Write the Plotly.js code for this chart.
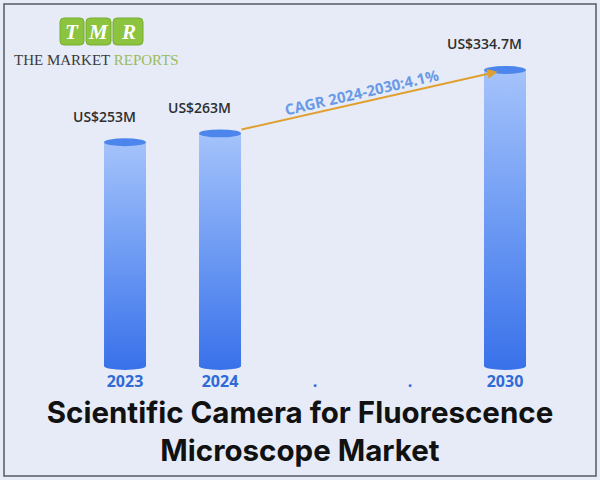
<!DOCTYPE html>
<html>
<head>
<meta charset="utf-8">
<script src="https://cdn.plot.ly/plotly-3.0.1.min.js"></script>
<style>html,body{margin:0;padding:0;background:#e6ebf7;}#chart{width:600px;height:480px;}</style>
</head>
<body>
<div id="chart"></div>
<script>
// ---- data ----
const categories = ["2023", "2024", ".", ".", "2030"];
const values = [253, 263, null, null, 334.7];
const valueLabels = ["US$253M", "US$263M", "", "", "US$334.7M"];
const cagrText = "CAGR 2024-2030:4.1%";
const titleLines = ["Scientific Camera for Fluorescence", "Microscope Market"];

// ---- geometry helpers ----
const halfW = 0.221;      // half bar width in category units
const capR = 4.5;         // ellipse vertical radius in value units
const bg = "#e6ebf7";
const plotH = 372;        // plot area height in px (480 - bottom margin)
const py = p => (plotH - p) / plotH;   // figure pixel row -> paper y
const px = p => p / 600;

const traces = [];
const shapes = [];
const annotations = [];

values.forEach((v, i) => {
  if (v === null) return;
  traces.push({
    type: "scatter", mode: "lines",
    x: [i - halfW, i + halfW, i + halfW, i - halfW, i - halfW],
    y: [0, 0, v, v, 0],
    fill: "toself",
    line: {width: 0, color: "rgba(0,0,0,0)"},
    fillgradient: {type: "vertical", colorscale: [[0, "#3a72ea"], [0.5, "#6e9bf3"], [1, "#a5c3fb"]]},
    hoverinfo: "skip", showlegend: false
  });
  shapes.push({type: "circle", xref: "x", yref: "y", x0: i - halfW, x1: i + halfW, y0: -capR, y1: capR,
    fillcolor: "#3a72ea", line: {width: 0}, layer: "below"});
  shapes.push({type: "circle", xref: "x", yref: "y", x0: i - halfW, x1: i + halfW, y0: v - capR, y1: v + capR,
    fillcolor: "#4c86ec", line: {width: 0}, layer: "above"});
  annotations.push({x: i, y: v, xref: "x", yref: "y", text: valueLabels[i], showarrow: false,
    yshift: 26, xshift: -21, font: {family: "Open Sans", size: 14, color: "#2e2e2e", weight: 600}});
});

// CAGR arrow from 2024 top to 2030 top
const i24 = 1, i30 = 4;
annotations.push({
  x: i30 - 0.08, y: values[i30] - 2, xref: "x", yref: "y",
  ax: i24 + 0.21, ay: values[i24] + 4, axref: "x", ayref: "y",
  text: "", showarrow: true, arrowhead: 2, arrowsize: 1, arrowwidth: 2, arrowcolor: "#e0a030", standoff: 0, startstandoff: 0
});
annotations.push({
  x: 2.49, y: values[i30], xref: "x", yref: "y", text: cagrText, showarrow: false, textangle: -13,
  yshift: -22, font: {family: "Open Sans", size: 15, color: "#6a9ae6", weight: 700}
});

// Logo (rounded green tiles)
const logoLetters = ["T", "M", "R"];
const logoBoxes = [[60, 84], [86, 111], [113, 143]];
const rr = 4; // corner radius px
logoBoxes.forEach((b, k) => {
  const L = b[0], R = b[1], T = 18, B = 45;
  const path = `M ${px(L + rr)} ${py(T)} L ${px(R - rr)} ${py(T)} Q ${px(R)} ${py(T)} ${px(R)} ${py(T + rr)} ` +
    `L ${px(R)} ${py(B - rr)} Q ${px(R)} ${py(B)} ${px(R - rr)} ${py(B)} L ${px(L + rr)} ${py(B)} ` +
    `Q ${px(L)} ${py(B)} ${px(L)} ${py(B - rr)} L ${px(L)} ${py(T + rr)} Q ${px(L)} ${py(T)} ${px(L + rr)} ${py(T)} Z`;
  shapes.push({type: "path", xref: "paper", yref: "paper", path: path,
    fillcolor: "#8cc43f", line: {width: 1, color: "#78ad30"}, layer: "above"});
  annotations.push({x: px((L + R) / 2), y: py((T + B) / 2), xref: "paper", yref: "paper", xanchor: "center", yanchor: "middle",
    text: "<i><b>" + logoLetters[k] + "</b></i>",
    showarrow: false, font: {family: "Liberation Serif", size: 21, color: "#ffffff"}});
});
annotations.push({x: px(12), y: py(60), xref: "paper", yref: "paper", xanchor: "left", yanchor: "middle",
  text: "THE MARKET <span style='color:#9bbb59'>REPORTS</span>", showarrow: false,
  font: {family: "Liberation Serif", size: 15, color: "#3a3a3a"}});

// border
shapes.push({type: "rect", xref: "paper", yref: "paper", x0: px(4), x1: px(596), y0: py(476), y1: py(4),
  line: {width: 1.5, color: "#555a63"}, fillcolor: "rgba(0,0,0,0)", layer: "above"});

const layout = {
  width: 600, height: 480,
  paper_bgcolor: bg, plot_bgcolor: bg,
  margin: {l: 0, r: 0, t: 0, b: 480 - plotH},
  showlegend: false,
  title: {text: titleLines.join("<br>"), x: 0.5, xanchor: "center", y: 1 - 423 / 480, yanchor: "top", yref: "container",
    font: {family: "Inter", size: 29.5, color: "#111111", weight: 700}},
  xaxis: {range: [-1.316, 5.0], tickvals: [0, 1, 2, 3, 4], ticktext: categories, showgrid: false, zeroline: false,
    showline: false, ticks: "", ticklabelstandoff: -2,
    tickfont: {family: "Open Sans", size: 16, color: "#2f6ad6", weight: 700}, fixedrange: true},
  yaxis: {range: [-6.78, 413.8], visible: false, fixedrange: true},
  shapes: shapes,
  annotations: annotations
};

Plotly.newPlot("chart", traces, layout, {displayModeBar: false, staticPlot: true});
</script>
</body>
</html>
